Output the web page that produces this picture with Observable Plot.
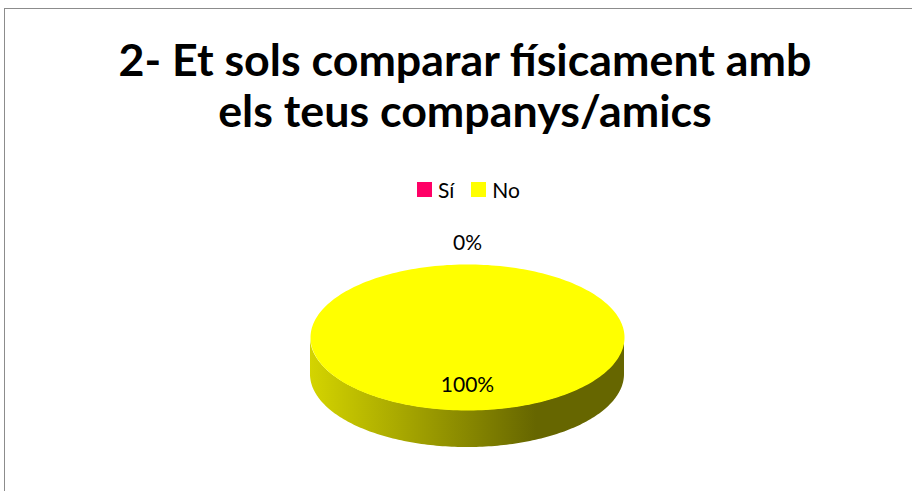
<!DOCTYPE html>
<html>
<head>
<meta charset="utf-8">
<script src="https://cdn.jsdelivr.net/npm/d3@7"></script>
<script src="https://cdn.jsdelivr.net/npm/@observablehq/plot@0.6"></script>
<style>
  html, body { margin: 0; padding: 0; background: #fff; }
  #wrap { position: relative; width: 912px; height: 491px; overflow: hidden; font-family: Lato, "Open Sans", sans-serif; color: #000; }
  #frame { position: absolute; left: 4px; top: 8px; width: 1200px; height: 800px; border-left: 1.5px solid #8c8c8c; border-top: 1.5px solid #8c8c8c; box-sizing: border-box; }
  #chart { position: absolute; left: 0; top: 0; }
  .tline { position: absolute; left: 0; width: 930px; text-align: center; font-weight: bold; white-space: nowrap; font-family: Lato, "Open Sans", sans-serif; }
  #legend { position: absolute; left: 417px; top: 173px; }
  #legend > div { margin: 0 !important; }
  #legend span[class$="-swatch"] { margin-right: 17px !important; }
  #legend span[class$="-swatch"] > svg { margin-right: 6px !important; }
</style>
</head>
<body>
<div id="wrap">
  <div id="frame"></div>
  <div id="chart"></div>
  <div id="title"></div>
  <div id="legend"></div>
</div>
<script>
// ---- data ----
const categories = ["Sí", "No"];
const values = [0, 100];
const colors = ["#FF0066", "#FFFF00"];
const titleLines = ["2- Et sols comparar físicament amb", "els teus companys/amics"];

// ---- layout constants ----
const W = 912, H = 491;
const cx = 467, cy = 337, R = 157;   // pie centre and radius (px)
const tilt = 0.465;                   // vertical squash of the top face
const depth = 0.236;                  // thickness of the pie (in radius units)
const FAM = 'Lato, "Open Sans", sans-serif';

// ---- title ----
(function () {
  const ctx = document.createElement("canvas").getContext("2d");
  ctx.font = `bold 40px ${FAM}`;
  const m = ctx.measureText(titleLines[0]);
  const F = 40 * 694 / m.width;
  ctx.font = `bold ${F}px ${FAM}`;
  const mm = ctx.measureText(titleLines[0]);
  const asc = mm.fontBoundingBoxAscent, desc = mm.fontBoundingBoxDescent;
  const L = Math.ceil(F * 1.3);
  const baseOff = (L - (asc + desc)) / 2 + asc;
  const baselines = [76, 127];
  const t = document.getElementById("title");
  titleLines.forEach((s, i) => {
    const d = document.createElement("div");
    d.className = "tline";
    d.textContent = s;
    d.style.fontSize = F + "px";
    d.style.lineHeight = L + "px";
    d.style.top = (baselines[i] - baseOff) + "px";
    t.appendChild(d);
  });
})();

// ---- legend ----
document.getElementById("legend").appendChild(
  Plot.legend({
    color: { type: "ordinal", domain: categories, range: colors },
    swatchSize: 15,
    style: { fontSize: "21px", fontFamily: FAM, color: "#000", margin: "0" }
  })
);

// ---- pie geometry from values ----
const total = d3.sum(values);
const arcs = d3.pie().sort(null).value(d => d)(values);

const topPts = [];
arcs.forEach((a, i) => {
  const n = Math.max(2, Math.ceil((a.endAngle - a.startAngle) / (2 * Math.PI) * 240));
  topPts.push({ cat: categories[i], x: 0, y: 0 });
  for (let k = 0; k <= n; k++) {
    const ang = a.startAngle + (a.endAngle - a.startAngle) * k / n;
    topPts.push({ cat: categories[i], x: Math.sin(ang), y: -Math.cos(ang) * tilt });
  }
  topPts.push({ cat: categories[i], x: 0, y: 0 });
});

const sideMarks = [];
arcs.forEach((a, i) => {
  const s = Math.max(a.startAngle, Math.PI / 2);
  const e = Math.min(a.endAngle, 3 * Math.PI / 2);
  if (e <= s) return;
  const n = Math.max(2, Math.ceil((e - s) / Math.PI * 160));
  const pts = d3.range(n + 1).map(k => {
    const ang = s + (e - s) * k / n;
    const y1 = -Math.cos(ang) * tilt;
    return { x: Math.sin(ang), y1, y2: y1 + depth };
  });
  sideMarks.push(Plot.areaY(pts, { x: "x", y1: "y1", y2: "y2", fill: `url(#side-${i})`, curve: "linear" }));
});

const labels = arcs.map((a, i) => {
  const p = values[i] / total;
  const mid = (a.startAngle + a.endAngle) / 2;
  const r = p < 0.05 ? 1.29 : 0.66;
  return { text: d3.format(".0%")(p), x: r * Math.sin(mid), y: -r * Math.cos(mid) * tilt };
});

const gradients = () => {
  const defs = d3.create("svg:defs");
  colors.forEach((c, i) => {
    const g = defs.append("linearGradient").attr("id", `side-${i}`)
      .attr("x1", 0).attr("x2", 1).attr("y1", 0).attr("y2", 0);
    const mix = t => d3.interpolateRgb(c, "#000")(t);
    [[0, 0.17], [0.72, 0.6], [1, 0.6]].forEach(([o, t]) =>
      g.append("stop").attr("offset", o).attr("stop-color", mix(t)));
  });
  return defs.node();
};

const chart = Plot.plot({
  width: W,
  height: H,
  margin: 0,
  style: { background: "transparent", overflow: "visible" },
  x: { domain: [-1, 1], range: [cx - R, cx + R], axis: null },
  y: { domain: [-1, 1], range: [cy - R, cy + R], axis: null },
  color: { domain: categories, range: colors },
  marks: [
    gradients,
    ...sideMarks,
    Plot.line(topPts, { x: "x", y: "y", z: "cat", fill: "cat", stroke: "none" }),
    Plot.text(labels, { x: "x", y: "y", text: "text", fontSize: 21, fontFamily: FAM, fill: "#000" })
  ]
});
document.getElementById("chart").appendChild(chart);
</script>
</body>
</html>
